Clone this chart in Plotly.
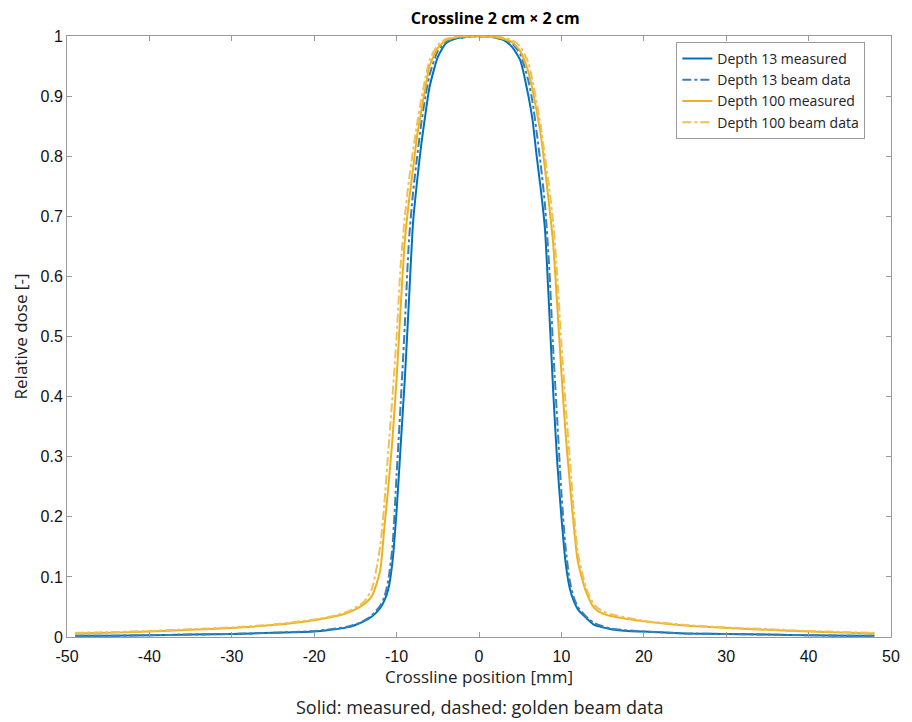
import plotly.graph_objects as go

# Crossline positions [mm]
x_mm = [-49, -45, -40, -35, -30, -25, -20, -18, -16, -15, -14, -13, -12, -11.5, -11, -10.5,
        -10, -9.5, -9, -8.5, -8, -7.5, -7, -6.5, -6, -5, -4, -3, -2, -1, 0,
        1, 2, 3, 4, 5, 6, 6.5, 7, 7.5, 8, 8.5, 9, 9.5, 10, 10.5, 11, 11.5, 12,
        13, 14, 15, 16, 18, 20, 25, 30, 35, 40, 45, 48]

d13_measured = [0.002, 0.002, 0.003, 0.004, 0.005, 0.007, 0.009, 0.012, 0.016, 0.020, 0.026, 0.034, 0.048, 0.060, 0.080, 0.125,
                0.21, 0.32, 0.43, 0.56, 0.69, 0.76, 0.82, 0.87, 0.915, 0.965, 0.988, 0.995, 0.998, 0.999, 1.0,
                0.999, 0.997, 0.993, 0.982, 0.96, 0.90, 0.86, 0.80, 0.745, 0.68, 0.55, 0.41, 0.29, 0.20, 0.125, 0.082, 0.060, 0.046,
                0.032, 0.020, 0.016, 0.013, 0.010, 0.009, 0.006, 0.005, 0.004, 0.003, 0.002, 0.002]

d13_beam = [0.002, 0.002, 0.003, 0.004, 0.005, 0.007, 0.010, 0.013, 0.017, 0.021, 0.027, 0.036, 0.052, 0.066, 0.095, 0.15,
            0.27, 0.39, 0.52, 0.66, 0.74, 0.80, 0.855, 0.90, 0.935, 0.975, 0.99, 0.996, 0.997, 1.0, 0.998,
            1.0, 0.998, 0.995, 0.988, 0.97, 0.925, 0.89, 0.84, 0.785, 0.72, 0.62, 0.48, 0.36, 0.24, 0.15, 0.095, 0.066, 0.050,
            0.034, 0.023, 0.018, 0.014, 0.011, 0.009, 0.006, 0.005, 0.004, 0.003, 0.002, 0.002]

d100_measured = [0.006, 0.007, 0.009, 0.012, 0.015, 0.020, 0.028, 0.033, 0.040, 0.046, 0.054, 0.068, 0.11, 0.18, 0.25, 0.33,
                 0.43, 0.55, 0.66, 0.725, 0.78, 0.835, 0.875, 0.915, 0.95, 0.98, 0.993, 0.997, 0.999, 1.0, 0.999,
                 0.999, 0.998, 0.995, 0.99, 0.975, 0.94, 0.91, 0.875, 0.835, 0.78, 0.72, 0.655, 0.55, 0.44, 0.34, 0.26, 0.185, 0.125,
                 0.075, 0.048, 0.039, 0.035, 0.030, 0.026, 0.019, 0.015, 0.012, 0.009, 0.007, 0.006]

d100_beam = [0.007, 0.008, 0.010, 0.013, 0.016, 0.021, 0.029, 0.034, 0.042, 0.049, 0.058, 0.080, 0.15, 0.22, 0.31, 0.40,
             0.50, 0.62, 0.70, 0.76, 0.81, 0.855, 0.895, 0.93, 0.96, 0.985, 0.995, 0.998, 1.0, 0.998, 1.0,
             0.998, 1.0, 0.997, 0.993, 0.983, 0.955, 0.925, 0.89, 0.85, 0.80, 0.75, 0.69, 0.60, 0.49, 0.39, 0.30, 0.21, 0.14,
             0.082, 0.053, 0.043, 0.038, 0.032, 0.027, 0.020, 0.016, 0.013, 0.010, 0.008, 0.007]

x_ticks = [-50, -40, -30, -20, -10, 0, 10, 20, 30, 40, 50]
x_ticktext = ["-50", "-40", "-30", "-20", "-10", "0", "10", "20", "30", "40", "50"]
y_ticks = [0, 0.1, 0.2, 0.3, 0.4, 0.5, 0.6, 0.7, 0.8, 0.9, 1]
y_ticktext = ["0", "0.1", "0.2", "0.3", "0.4", "0.5", "0.6", "0.7", "0.8", "0.9", "1"]

BLUE = "#0072BD"
YELLOW = "#EDB120"
TXT = "Open Sans, Noto Sans, sans-serif"

fig = go.Figure()
fig.add_trace(go.Scatter(x=x_mm, y=d13_measured, mode="lines", name="Depth 13 measured",
                         line=dict(color=BLUE, width=2, shape="spline", smoothing=0.6)))
fig.add_trace(go.Scatter(x=x_mm, y=d13_beam, mode="lines", name="Depth 13 beam data",
                         line=dict(color="#3C7FB5", width=2, dash="dashdot", shape="spline", smoothing=0.6)))
fig.add_trace(go.Scatter(x=x_mm, y=d100_measured, mode="lines", name="Depth 100 measured",
                         line=dict(color=YELLOW, width=2, shape="spline", smoothing=0.6)))
fig.add_trace(go.Scatter(x=x_mm, y=d100_beam, mode="lines", name="Depth 100 beam data",
                         line=dict(color="#F0C055", width=2, dash="dashdot", shape="spline", smoothing=0.6)))

axis_common = dict(showgrid=False, zeroline=False, showline=True, linecolor="#9a9a9a", linewidth=1,
                   mirror="ticks", ticks="inside", ticklen=5, tickcolor="#9a9a9a",
                   tickfont=dict(family="Liberation Sans, Arial, sans-serif", size=16, color="#111"))

fig.update_layout(
    width=904, height=714,
    paper_bgcolor="white", plot_bgcolor="white",
    margin=dict(l=59, r=12, t=28, b=85),
    title=dict(text="<b>Crossline 2 cm × 2 cm</b>", x=0.539, xanchor="center", y=0.985, yanchor="middle",
               font=dict(family=TXT, size=16, color="#000")),
    xaxis=dict(range=[-50, 50], tickvals=x_ticks, ticktext=x_ticktext, ticklabelstandoff=5,
               title=dict(text="Crossline position [mm]", standoff=4,
                          font=dict(family=TXT, size=17, color="#222")),
               **axis_common),
    yaxis=dict(range=[0, 1], tickvals=y_ticks, ticktext=y_ticktext,
               title=dict(text="Relative dose [-]", standoff=8,
                          font=dict(family=TXT, size=17, color="#222")),
               **axis_common),
    legend=dict(x=0.7395, y=0.99, xanchor="left", yanchor="top",
                bgcolor="white", bordercolor="#9a9a9a", borderwidth=1,
                font=dict(family=TXT, size=14, color="#222"),
                tracegroupgap=0, itemwidth=30),
    annotations=[dict(text="Solid: measured, dashed: golden beam data", xref="paper", yref="paper",
                      x=0.5, y=-0.1165, xanchor="center", yanchor="middle", showarrow=False,
                      font=dict(family=TXT, size=18, color="#222"))],
    showlegend=True,
)

fig.write_html("out.html")
